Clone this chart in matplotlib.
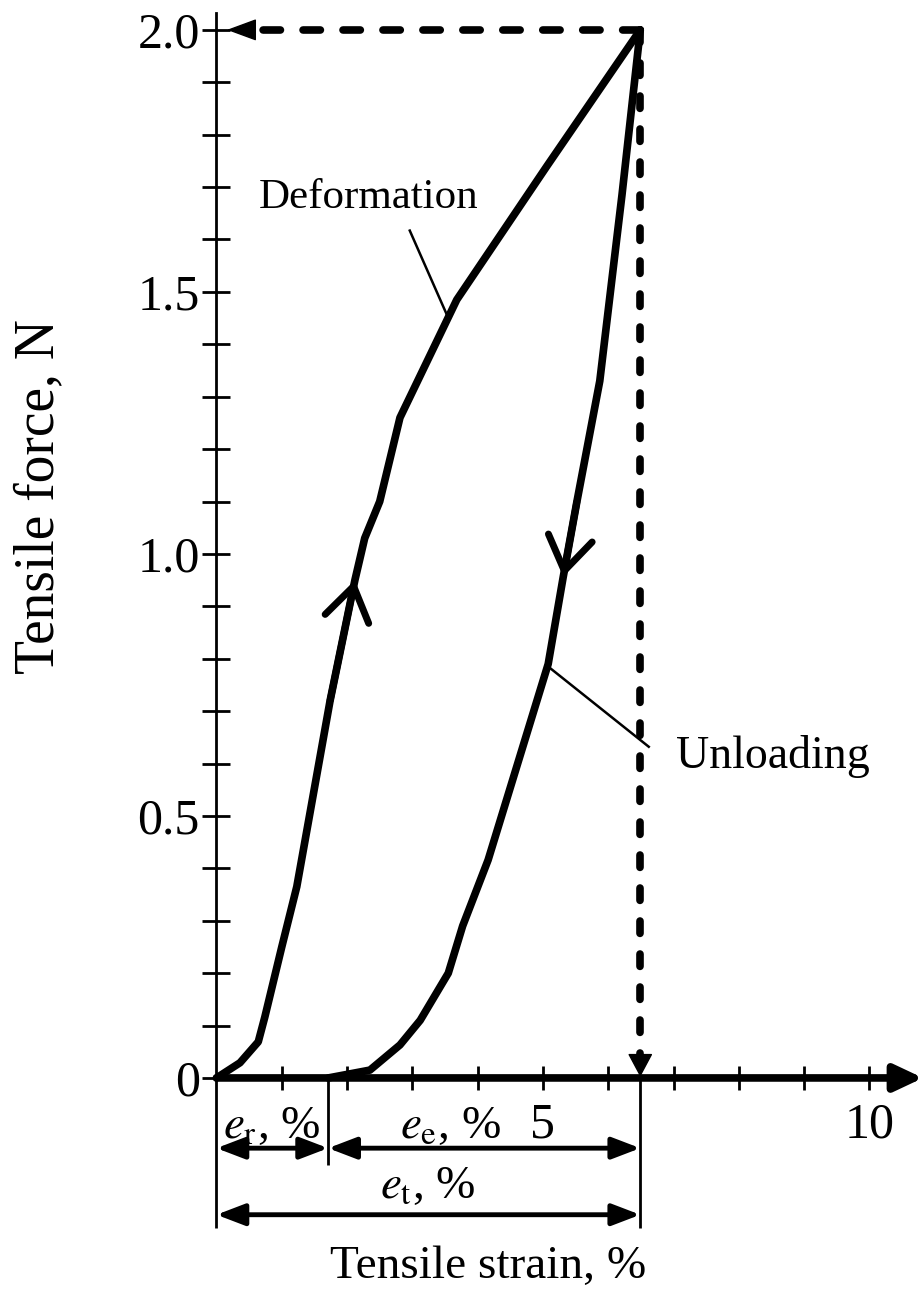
import matplotlib
matplotlib.use('Agg')
import matplotlib.pyplot as plt
from matplotlib.ticker import FixedLocator, FixedFormatter

plt.rcParams['font.family'] = ['Liberation Serif', 'DejaVu Serif']
plt.rcParams['mathtext.fontset'] = 'stix'

# ---------------- data ----------------
load_strain = [0, 0.36, 0.64, 0.74, 1.00, 1.23, 1.74, 2.12, 2.27, 2.50, 2.81, 3.68, 5.06, 6.49]
load_force = [0, 0.029, 0.069, 0.116, 0.25, 0.365, 0.72, 0.95, 1.03, 1.10, 1.26, 1.485, 1.74, 2.0]
unload_strain = [6.49, 6.21, 5.87, 5.52, 5.31, 5.08, 4.16, 3.77, 3.55, 3.12, 2.81, 2.35, 1.71]
unload_force = [2.0, 1.685, 1.33, 1.10, 0.956, 0.79, 0.416, 0.29, 0.20, 0.11, 0.063, 0.015, 0]
max_force = 2.0
max_strain = 6.49
residual_strain = 1.71

ytick_vals = [0, 0.5, 1.0, 1.5, 2.0]
ytick_labels = ['0', '0.5', '1.0', '1.5', '2.0']
yminor_vals = [0.1, 0.2, 0.3, 0.4, 0.6, 0.7, 0.8, 0.9, 1.1, 1.2, 1.3, 1.4, 1.6, 1.7, 1.8, 1.9]
xtick_vals = [1, 2, 3, 4, 5, 6, 7, 8, 9, 10]
xtick_labels = ['', '', '', '', '5', '', '', '', '', '10']

# ---------------- figure ----------------
fig = plt.figure(figsize=(9.24, 12.97), dpi=100)
ax = fig.add_axes([0, 0, 1, 1])
ax.set_xlim(-3.315, 10.835)
ax.set_ylim(-0.418, 2.057)

for s in ['top', 'right']:
    ax.spines[s].set_visible(False)
ax.spines['left'].set_position(('data', 0))
ax.spines['left'].set_bounds(0, 2.032)
ax.spines['left'].set_linewidth(2)
ax.spines['bottom'].set_position(('data', 0))
ax.spines['bottom'].set_visible(False)

ax.yaxis.set_major_locator(FixedLocator(ytick_vals))
ax.yaxis.set_major_formatter(FixedFormatter(ytick_labels))
ax.yaxis.set_minor_locator(FixedLocator(yminor_vals))
ax.xaxis.set_major_locator(FixedLocator(xtick_vals))
ax.xaxis.set_major_formatter(FixedFormatter(xtick_labels))
ax.tick_params(axis='y', which='both', direction='inout', length=20, width=2,
               labelsize=36, pad=2)
ax.tick_params(axis='x', which='both', direction='inout', length=17, width=2,
               labelsize=36, pad=9)

# x axis with arrow head
ax.annotate('', xy=(10.82, 0), xytext=(0, 0),
            arrowprops=dict(arrowstyle='-|>,head_length=17,head_width=8', mutation_scale=1,
                            lw=5.5, color='k', shrinkA=0, shrinkB=0, capstyle='round'))

# curves
ax.plot(load_strain, load_force, color='k', lw=5.5, solid_joinstyle='round', solid_capstyle='round')
ax.plot(unload_strain, unload_force, color='k', lw=5.5, solid_joinstyle='round', solid_capstyle='round')

# direction chevrons on curves
chev = dict(arrowstyle='->,head_length=2.4,head_width=1.6', mutation_scale=10,
            lw=5.0, color='k', shrinkA=0, shrinkB=0, capstyle='round')
ax.annotate('', xy=(load_strain[7], load_force[7]), xytext=(load_strain[6], load_force[6]),
            arrowprops=chev)
ax.annotate('', xy=(unload_strain[4], unload_force[4]), xytext=(unload_strain[3], unload_force[3]),
            arrowprops=chev)

# dashed guide lines
ax.plot([max_strain, 0.59], [max_force, max_force], color='k', lw=5.5,
        ls=(0, (2.27, 2.96)), dash_capstyle='round')
ax.annotate('', xy=(0.16, max_force), xytext=(0.59, max_force),
            arrowprops=dict(arrowstyle='-|>,head_length=19,head_width=7', mutation_scale=1,
                            lw=1, color='k', shrinkA=0, shrinkB=0))
ax.plot([max_strain, max_strain], [max_force, 0.044], color='k', lw=5.5,
        ls=(0, (1.62, 2.7)), dash_capstyle='round')
ax.annotate('', xy=(max_strain, 0.002), xytext=(max_strain, 0.044),
            arrowprops=dict(arrowstyle='-|>,head_length=15,head_width=8', mutation_scale=1,
                            lw=1, color='k', shrinkA=0, shrinkB=0))

# extension lines below x axis
ax.vlines([0, residual_strain, max_strain], [0, 0, 0], [-0.286, -0.166, -0.286],
          color='k', lw=2)

# dimension arrows
dim = dict(arrowstyle='<|-|>,head_length=17,head_width=6.5', mutation_scale=1,
           lw=3.5, color='k', shrinkA=0, shrinkB=0)
ax.annotate('', xy=(residual_strain, -0.134), xytext=(0, -0.134), arrowprops=dim)
ax.annotate('', xy=(max_strain, -0.134), xytext=(residual_strain, -0.134), arrowprops=dim)
ax.annotate('', xy=(max_strain, -0.261), xytext=(0, -0.261), arrowprops=dim)

# leader lines
ax.plot([2.96, 3.54], [1.617, 1.453], color='k', lw=1.8)
ax.plot([5.09, 6.62], [0.784, 0.632], color='k', lw=1.8)

# texts
ax.text(2.33, 1.679, 'Deformation', ha='center', va='center', fontsize=31)
ax.text(8.52, 0.613, 'Unloading', ha='center', va='center', fontsize=33)
ax.text(0.85, -0.094, r'$e_{\mathrm{r}}$, %', ha='center', va='center', fontsize=34)
ax.text(3.58, -0.094, r'$e_{\mathrm{e}}$, %', ha='center', va='center', fontsize=34)
ax.text(3.24, -0.208, r'$e_{\mathrm{t}}$, %', ha='center', va='center', fontsize=34)
ax.text(4.16, -0.361, 'Tensile strain, %', ha='center', va='center', fontsize=34)
ax.text(-2.72, 1.109, 'Tensile force, N', ha='center', va='center', rotation=90, fontsize=40)

fig.savefig('out.png', dpi=100, facecolor='white')
